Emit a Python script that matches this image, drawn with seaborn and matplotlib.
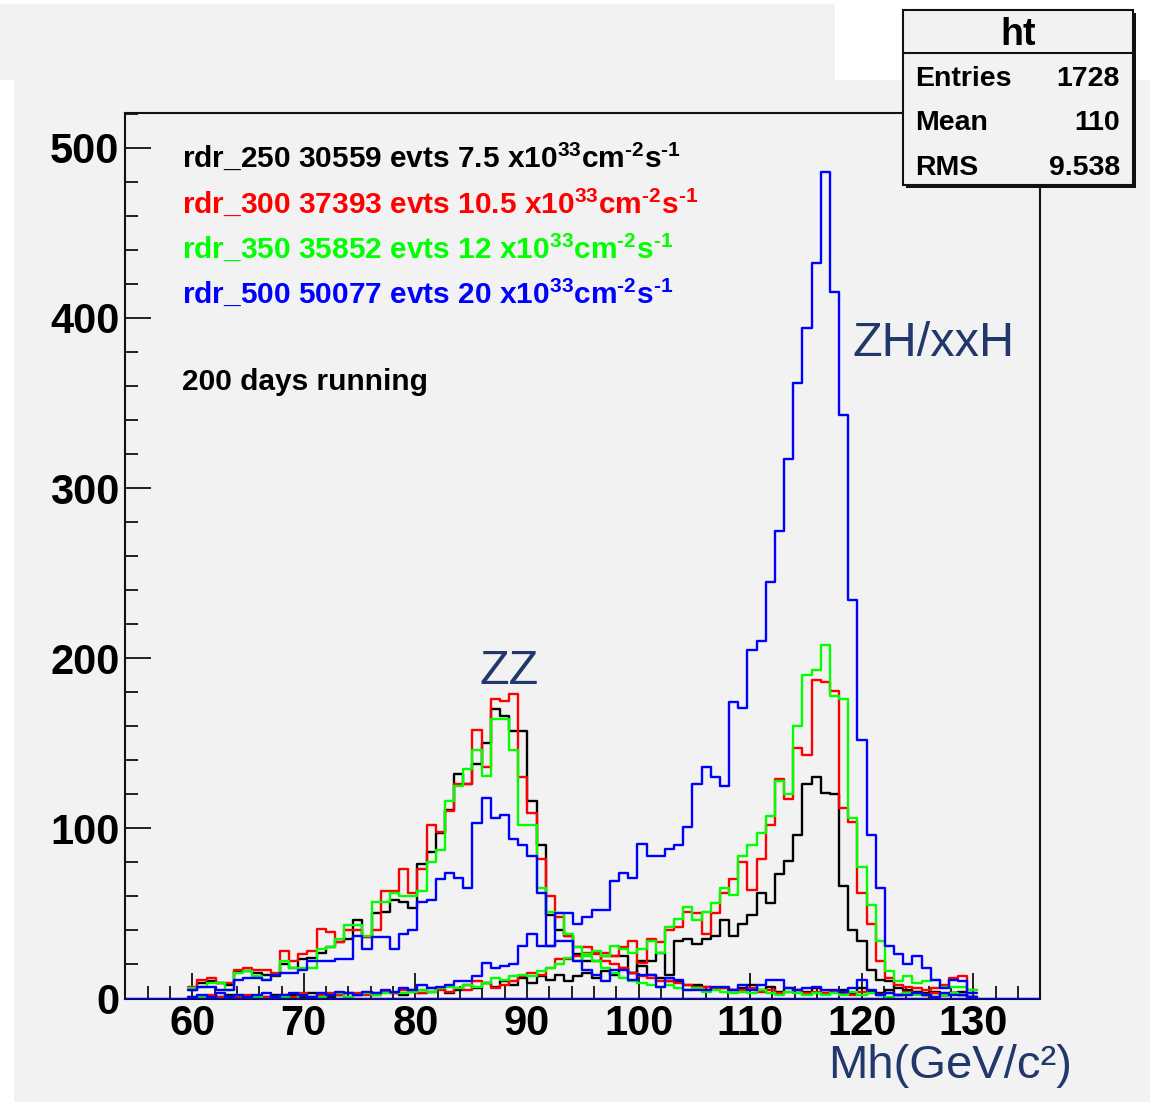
import numpy as np
import pandas as pd
import seaborn as sns
import matplotlib
matplotlib.use("Agg")
import matplotlib.pyplot as plt
from matplotlib.patches import Rectangle
from matplotlib.lines import Line2D
from matplotlib.ticker import MultipleLocator

# ---------------- data (counts per bin, 86 bins) ----------------
bin_start = 59.64
bin_width = 0.8216

bk_zz = [5, 9, 10, 9, 8, 16, 16, 15, 14, 13,
         20, 18, 23, 24, 27, 30, 33, 35, 46, 36,
         50, 51, 58, 57, 53, 79, 86, 97, 111, 132,
         126, 138, 150, 170, 166, 157, 157, 116, 90, 49,
         40, 37, 26, 22, 22, 25, 25, 25, 15, 19,
         14, 12, 10, 10, 8, 8, 7, 6, 6, 5,
         6, 8, 5, 7, 4, 6, 5, 4, 6, 3,
         4, 5, 3, 6, 4, 3, 5, 2, 3, 4,
         2, 3, 2, 3, 4, 1]
bk_zh = [0, 1, 0, 1, 2, 1, 0, 1, 1, 2,
         1, 2, 1, 3, 2, 1, 2, 3, 2, 3,
         2, 4, 3, 2, 5, 3, 4, 6, 3, 5,
         8, 6, 9, 7, 10, 8, 12, 9, 13, 11,
         14, 10, 13, 15, 12, 16, 14, 18, 15, 22,
         22, 27, 14, 34, 35, 32, 35, 37, 46, 37,
         44, 49, 62, 56, 73, 81, 96, 126, 130, 121,
         120, 66, 40, 34, 17, 11, 10, 6, 5, 4,
         3, 4, 2, 3, 2, 1]
rd_zz = [7, 11, 12, 9, 9, 17, 18, 17, 17, 15,
         28, 22, 26, 28, 41, 39, 33, 40, 40, 36,
         40, 63, 63, 76, 62, 76, 102, 98, 110, 126,
         126, 158, 136, 176, 175, 179, 130, 109, 82, 60,
         48, 37, 30, 30, 27, 22, 20, 18, 15, 13,
         12, 10, 10, 9, 8, 7, 7, 6, 6, 5,
         5, 6, 4, 5, 3, 4, 5, 3, 4, 3,
         4, 3, 2, 4, 3, 2, 3, 2, 4, 3,
         2, 3, 2, 3, 2, 1]
rd_zh = [1, 0, 2, 1, 0, 1, 2, 1, 1, 0,
         2, 1, 3, 1, 2, 3, 2, 1, 3, 2,
         3, 4, 3, 5, 4, 3, 6, 5, 4, 6,
         5, 10, 9, 6, 8, 10, 13, 15, 14, 18,
         23, 23, 25, 27, 26, 27, 25, 30, 34, 21,
         35, 33, 40, 42, 51, 50, 38, 50, 62, 70,
         80, 64, 82, 102, 129, 117, 147, 143, 187, 186,
         181, 112, 104, 62, 44, 22, 12, 8, 7, 6,
         5, 6, 8, 12, 13, 5]
gr_zz = [6, 7, 9, 9, 5, 15, 16, 13, 11, 14,
         22, 18, 18, 18, 29, 30, 35, 43, 43, 37,
         57, 57, 62, 60, 60, 63, 80, 87, 116, 125,
         135, 146, 131, 164, 164, 146, 102, 102, 65, 51,
         50, 38, 30, 25, 22, 18, 15, 12, 10, 9,
         8, 7, 8, 6, 5, 6, 4, 5, 4, 3,
         4, 3, 5, 3, 2, 4, 3, 2, 3, 2,
         3, 2, 4, 2, 3, 2, 1, 2, 3, 2,
         2, 1, 2, 3, 2, 1]
gr_zh = [0, 1, 0, 0, 1, 2, 0, 1, 0, 1,
         1, 0, 2, 1, 1, 2, 3, 1, 2, 3,
         2, 3, 4, 3, 4, 5, 4, 6, 7, 6,
         8, 7, 9, 12, 11, 13, 14, 13, 16, 18,
         20, 24, 22, 26, 28, 25, 31, 29, 27, 29,
         34, 27, 42, 47, 54, 46, 51, 56, 65, 61,
         84, 90, 97, 107, 128, 120, 160, 190, 193, 208,
         178, 176, 106, 77, 55, 34, 16, 10, 13, 9,
         10, 11, 7, 7, 7, 5]
bl_zz = [5, 7, 7, 5, 5, 11, 12, 12, 11, 14,
         15, 15, 17, 22, 22, 22, 23, 23, 37, 29,
         36, 36, 29, 38, 40, 57, 58, 70, 74, 71,
         65, 103, 118, 106, 108, 94, 90, 84, 62, 31,
         34, 34, 22, 17, 14, 10, 17, 17, 11, 14,
         14, 7, 12, 11, 5, 5, 5, 7, 7, 5,
         8, 5, 8, 11, 11, 6, 5, 6, 7, 5,
         5, 4, 6, 11, 5, 2, 3, 2, 2, 3,
         2, 1, 3, 2, 2, 1]
bl_zh = [1, 2, 1, 3, 1, 2, 1, 2, 3, 1,
         2, 3, 2, 1, 3, 2, 4, 3, 2, 4,
         3, 5, 4, 6, 5, 8, 6, 7, 8, 10,
         10, 13, 21, 18, 19, 20, 31, 38, 31, 31,
         50, 50, 44, 48, 52, 52, 69, 74, 71, 91,
         84, 84, 88, 90, 101, 126, 136, 130, 125, 174,
         171, 205, 210, 245, 275, 317, 362, 394, 432, 486,
         415, 343, 234, 152, 96, 65, 31, 26, 20, 25,
         18, 11, 6, 11, 10, 3]

series = [("rdr_250 ZZ", bk_zz, "#000000"), ("rdr_250 ZH", bk_zh, "#000000"),
          ("rdr_300 ZZ", rd_zz, "#ff0000"), ("rdr_300 ZH", rd_zh, "#ff0000"),
          ("rdr_350 ZZ", gr_zz, "#00ff00"), ("rdr_350 ZH", gr_zh, "#00ff00"),
          ("rdr_500 ZZ", bl_zz, "#0000ff"), ("rdr_500 ZH", bl_zh, "#0000ff")]

SUP = "x10$^{33}$cm$^{\u20102}$s$^{\u20101}$"
legend_lines = [("rdr_250 30559 evts 7.5 " + SUP, "#000000"),
                ("rdr_300 37393 evts 10.5 " + SUP, "#ff0000"),
                ("rdr_350 35852 evts 12 " + SUP, "#00ff00"),
                ("rdr_500 50077 evts 20 " + SUP, "#0000ff")]
x_ticks = [60, 70, 80, 90, 100, 110, 120, 130]
y_ticks = [0, 100, 200, 300, 400, 500]
stat_rows = [("Entries", "1728"), ("Mean", "110"), ("RMS", "9.538")]

# ---------------- style ----------------
sns.set_theme(style="white")
plt.rcParams['font.family'] = ['Liberation Sans', 'DejaVu Sans']
plt.rcParams['mathtext.fontset'] = 'custom'
plt.rcParams['mathtext.rm'] = 'Liberation Sans:bold'
plt.rcParams['mathtext.it'] = 'Liberation Sans:bold'
plt.rcParams['mathtext.bf'] = 'Liberation Sans:bold'
plt.rcParams['mathtext.sf'] = 'Liberation Sans:bold'
plt.rcParams['mathtext.fallback'] = 'cm'

W, H = 1153, 1102
BG = '#f2f2f2'
NAVY = '#22376b'
fig = plt.figure(figsize=(W / 100, H / 100), dpi=100, facecolor='white')


def px_rect(x0, y0, x1, y1, **kw):
    r = Rectangle((x0 / W, 1 - y1 / H), (x1 - x0) / W, (y1 - y0) / H,
                  transform=fig.transFigure, **kw)
    fig.add_artist(r)
    return r


px_rect(0, 4, 835, 80, facecolor=BG, edgecolor='none', zorder=-10)
px_rect(14, 80, 1150, 1102, facecolor=BG, edgecolor='none', zorder=-10)

ax = fig.add_axes([125 / W, 1 - 998.5 / H, (1040 - 125) / W, (998.5 - 113) / H])
ax.set_facecolor(BG)

n = len(bk_zz)
edges = [bin_start + bin_width * i for i in range(n + 1)]
centers = [e + bin_width / 2 for e in edges[:-1]]
frames = []
for name, vals, col in series:
    frames.append(pd.DataFrame({"mass": centers, "count": vals, "sample": name}))
df = pd.concat(frames, ignore_index=True)

for name, vals, col in series:
    sns.histplot(data=df[df["sample"] == name], x="mass", weights="count",
                 bins=edges, element="step", fill=False, color=col,
                 linewidth=1.7, ax=ax)

ax.axhline(0, color='#0000ff', lw=2.5, zorder=5)

ax.set_xlim(53.97, 135.98)
ax.set_ylim(0, 520.4)
ax.set_xlabel('')
ax.set_ylabel('')
ax.set_xticks(x_ticks)
ax.set_yticks(y_ticks)
ax.xaxis.set_minor_locator(MultipleLocator(2))
ax.yaxis.set_minor_locator(MultipleLocator(20))
ax.tick_params(which='major', direction='in', length=19, width=1.3, color='#111111',
               labelcolor='black', bottom=True, left=True, top=False, right=False,
               labelsize=30, pad=4)
ax.tick_params(which='minor', direction='in', length=9.5, width=1.3, color='#111111',
               bottom=True, left=True, top=False, right=False)
ax.tick_params(axis='y', which='major', pad=4)
for lab in ax.get_xticklabels() + ax.get_yticklabels():
    lab.set_fontweight('bold')
for sp in ax.spines.values():
    sp.set_color('#111111')
    sp.set_linewidth(1.5)

# legend-like text
base_y = [167, 213, 258, 303]
for (txt, col), by in zip(legend_lines, base_y):
    fig.text(182 / W, 1 - by / H, txt, color=col, fontsize=21.5, fontweight='bold',
             ha='left', va='baseline')
fig.text(182 / W, 1 - 390 / H, "200 days running", color='black', fontsize=21.5,
         fontweight='bold', ha='left', va='baseline')

ax.text(88.4, 192, "ZZ", color=NAVY, fontsize=35, ha='center', va='center')
ax.text(126.4, 385, "ZH/xxH", color=NAVY, fontsize=35, ha='center', va='center')
fig.text(950 / W, 1 - 1066 / H, "Mh(GeV/c²)", color=NAVY, fontsize=34,
         ha='center', va='center')

# stat box
px_rect(906, 13, 1136, 188, facecolor='#111111', edgecolor='none', zorder=9)
px_rect(903, 10, 1133, 185, facecolor=BG, edgecolor='#111111', linewidth=1.5, zorder=10)
fig.add_artist(Line2D([903 / W, 1133 / W], [1 - 53 / H, 1 - 53 / H],
                      transform=fig.transFigure, color='#111111', lw=1.5, zorder=11))
fig.text(1018 / W, 1 - 45 / H, "ht", fontsize=27, fontweight='bold', ha='center',
         va='baseline', color='black', zorder=12)
for (lab, val), by in zip(stat_rows, [86, 130, 175]):
    fig.text(915 / W, 1 - by / H, lab, fontsize=20.5, fontweight='bold', ha='left',
             va='baseline', color='black', zorder=12)
    fig.text(1120 / W, 1 - by / H, val, fontsize=20.5, fontweight='bold', ha='right',
             va='baseline', color='black', zorder=12)

fig.savefig("out.png", dpi=100, facecolor=fig.get_facecolor())
